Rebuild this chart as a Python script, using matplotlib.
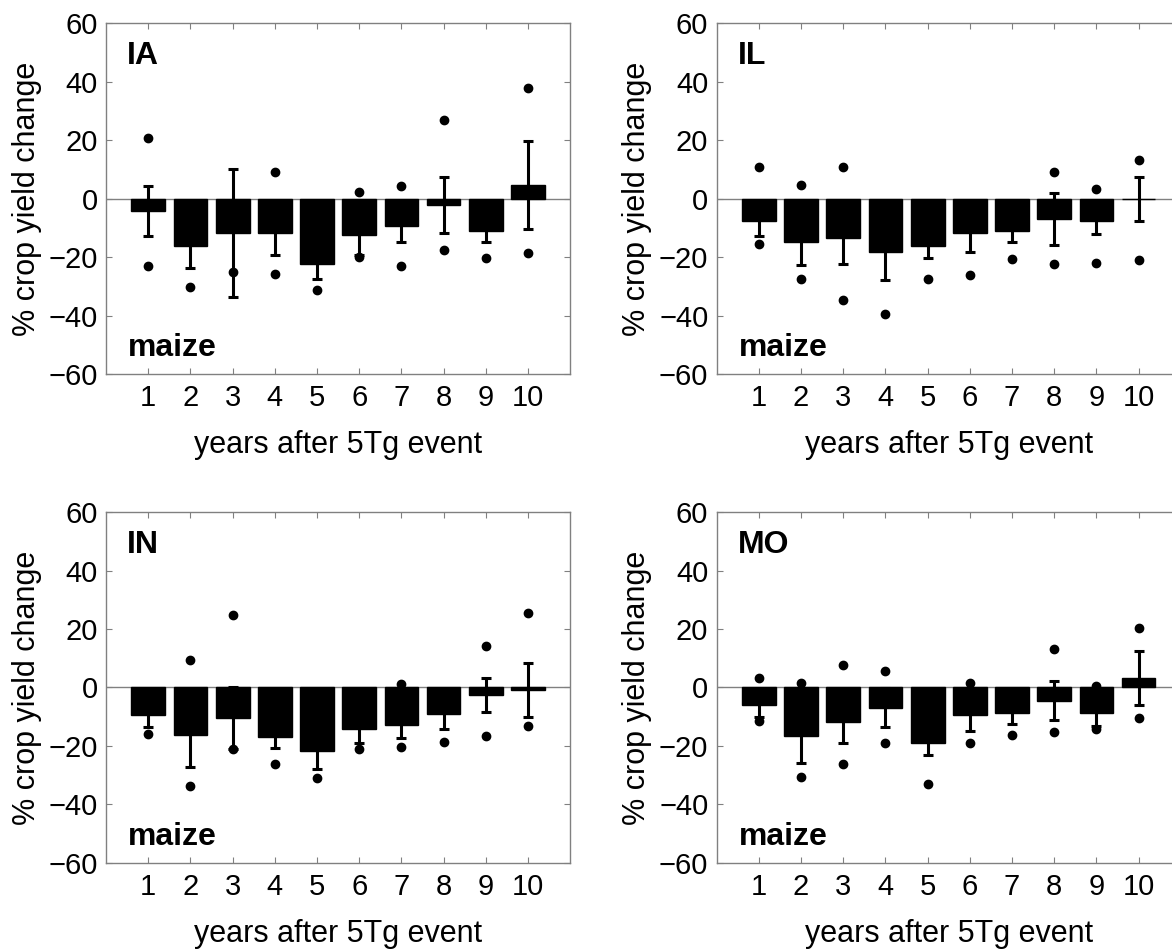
import matplotlib
matplotlib.use("Agg")
import matplotlib.pyplot as plt
import numpy as np

plt.rcParams['font.family'] = ['Liberation Sans', 'DejaVu Sans']

# данные: среднее изменение урожайности, ошибка и крайние точки (макс/мин)
years = np.arange(1, 11)

ia_mean = [-4.1, -16.2, -11.8, -11.8, -22.2, -12.4, -9.5, -2.1, -11.0, 4.8]
ia_err = [8.6, 7.5, 21.8, 7.3, 5.2, 6.9, 5.4, 9.5, 3.9, 15.1]
ia_max = [20.9, -9.0, -4.0, 9.3, -14.0, 2.4, 4.5, 26.9, -6.0, 37.8]
ia_min = [-23.1, -30.2, -25.1, -25.6, -31.4, -19.9, -23.1, -17.6, -20.2, -18.5]

il_mean = [-7.6, -14.9, -13.6, -18.2, -16.1, -11.8, -11.0, -6.9, -7.5, 0.0]
il_err = [5.0, 7.9, 8.6, 9.7, 4.1, 6.4, 3.9, 9.0, 4.7, 7.5]
il_max = [10.8, 4.8, 10.8, -8.0, -8.0, -5.0, -5.0, 9.2, 3.4, 13.2]
il_min = [-15.6, -27.4, -34.8, -39.3, -27.6, -26.0, -20.7, -22.5, -22.0, -21.0]

in_mean = [-9.5, -16.4, -10.3, -17.0, -21.6, -14.1, -12.8, -9.2, -2.6, -0.9]
in_err = [4.0, 10.9, 10.6, 3.6, 6.3, 4.8, 4.4, 4.9, 5.9, 9.2]
in_max = [-4.0, 9.5, 24.9, -8.0, -10.0, -6.0, 1.1, -4.0, 14.1, 25.5]
in_min = [-15.8, -33.8, -20.9, -26.1, -31.1, -21.2, -20.4, -18.6, -16.6, -13.2]

mo_mean = [-6.1, -16.6, -11.7, -6.9, -18.9, -9.4, -8.9, -4.6, -8.6, 3.2]
mo_err = [3.9, 9.2, 7.2, 6.6, 4.3, 5.5, 3.7, 6.7, 4.6, 9.2]
mo_max = [3.4, 1.7, 7.7, 5.7, -10.0, 1.5, -4.0, 13.2, 0.6, 20.4]
mo_min = [-11.5, -30.7, -26.2, -18.9, -33.2, -18.9, -16.1, -15.3, -14.3, -10.3]

panels = [
    ("IA", ia_mean, ia_err, ia_max, ia_min, [0.0905, 0.6071, 0.396, 0.3684]),
    ("IL", il_mean, il_err, il_max, il_min, [0.6115, 0.6071, 0.396, 0.3684]),
    ("IN", in_mean, in_err, in_max, in_min, [0.0905, 0.0938, 0.396, 0.3681]),
    ("MO", mo_mean, mo_err, mo_max, mo_min, [0.6115, 0.0938, 0.396, 0.3681]),
]

grey = "#808080"
fig = plt.figure(figsize=(11.72, 9.52), dpi=100)

for name, mean, err, vmax, vmin, pos in panels:
    ax = fig.add_axes(pos)
    ax.axhline(0, color=grey, linewidth=1, zorder=1)
    ax.bar(years, mean, width=0.8, color="black", edgecolor="black",
           linewidth=1, zorder=2)
    ax.errorbar(years, mean, yerr=err, fmt="none", ecolor="black",
                elinewidth=2.2, capsize=3.5, capthick=2.2, zorder=3)
    ax.plot(years, vmax, "o", color="black", markersize=6, zorder=4)
    ax.plot(years, vmin, "o", color="black", markersize=6, zorder=4)

    ax.set_xlim(0, 11)
    ax.set_ylim(-60, 60)
    ax.set_xticks(years)
    ax.set_yticks(np.arange(-60, 61, 20))
    ax.tick_params(direction="in", top=True, right=True, length=4,
                   color=grey, labelsize=21)
    ax.tick_params(axis="x", pad=7.5)
    ax.tick_params(axis="y", pad=6)
    for s in ax.spines.values():
        s.set_color(grey)
        s.set_linewidth(1)

    ax.set_xlabel("years after 5Tg event", fontsize=22)
    ax.set_ylabel("% crop yield change", fontsize=22)
    ax.xaxis.set_label_coords(0.5, -0.16)
    ax.yaxis.set_label_coords(-0.139, 0.5)
    ax.text(0.045, 0.883, name, transform=ax.transAxes, fontsize=23,
            fontweight="bold", va="baseline", ha="left")
    ax.text(0.047, 0.051, "maize", transform=ax.transAxes, fontsize=23,
            fontweight="bold", va="baseline", ha="left")

fig.savefig("out.png", dpi=100)
